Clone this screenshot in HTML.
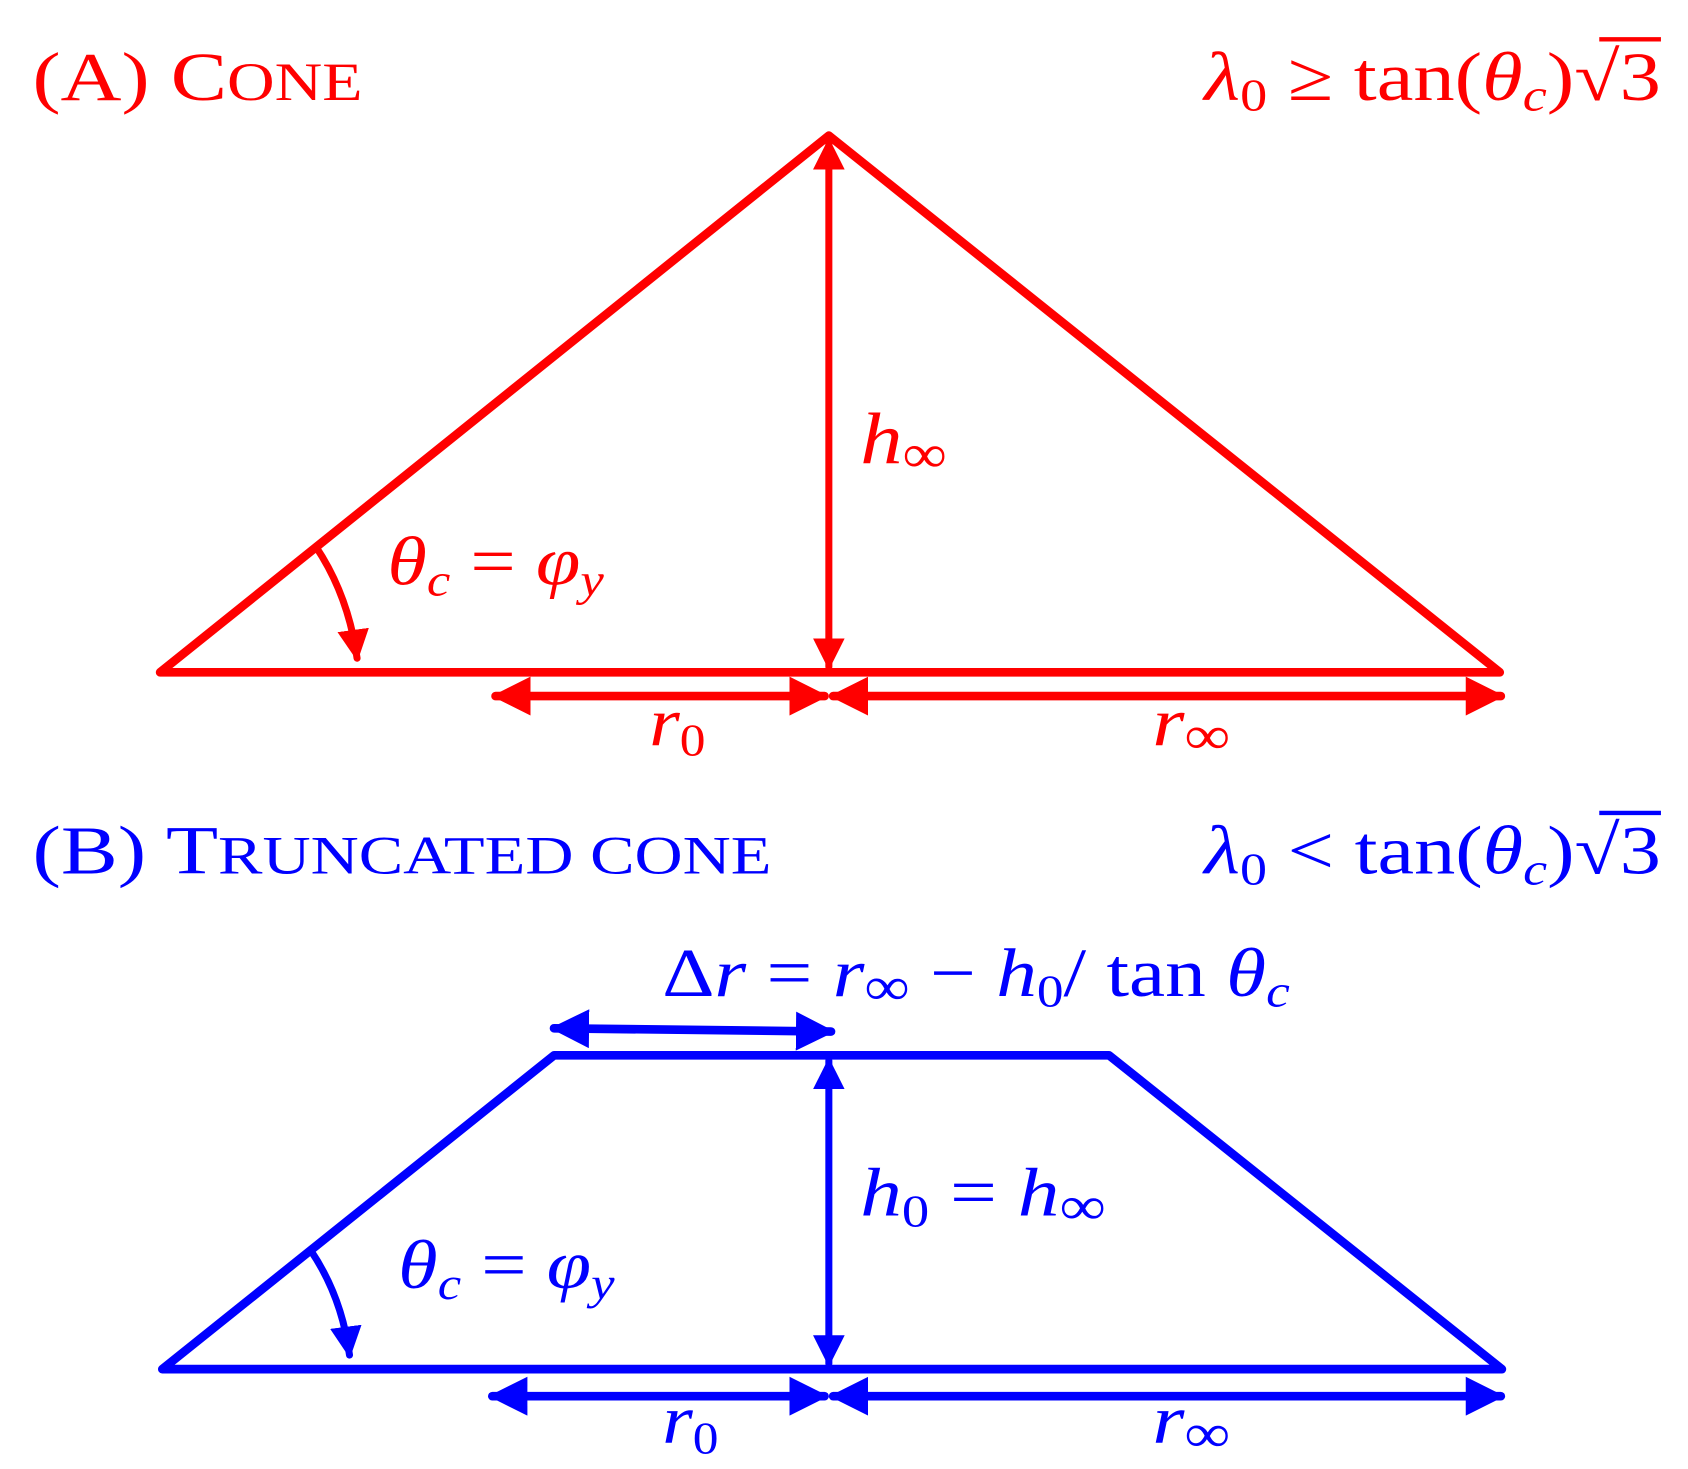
<!DOCTYPE html>
<html><head><meta charset="utf-8"><style>
html,body{margin:0;padding:0;background:#fff;}
svg{display:block;}
text{font-family:"Liberation Serif","DejaVu Serif",serif;}
.i{font-style:italic;}
</style></head><body>
<svg width="1688" height="1469" viewBox="0 0 1560 1357" xmlns="http://www.w3.org/2000/svg">
<defs>
<marker id="ar" viewBox="0 0 10 10" refX="9" refY="5" markerWidth="4.5" markerHeight="4.5" orient="auto-start-reverse" markerUnits="strokeWidth"><path d="M0,0 L10,5 L0,10 z" fill="#f00"/></marker>
<marker id="ab" viewBox="0 0 10 10" refX="9" refY="5" markerWidth="4.5" markerHeight="4.5" orient="auto-start-reverse" markerUnits="strokeWidth"><path d="M0,0 L10,5 L0,10 z" fill="#00f"/></marker>
</defs>
<!-- A -->
<g stroke="#f00" stroke-width="8" fill="none" stroke-linecap="round" stroke-linejoin="round">
<polyline points="148,621 766,125 1386,621 148,621"/>
<line x1="766" y1="130" x2="766" y2="616" marker-start="url(#ar)" marker-end="url(#ar)" stroke-width="6.5"/>
<path d="M292,505 Q322,550 330,608" marker-end="url(#ar)" stroke-width="6.5"/>
<line x1="458" y1="643" x2="762" y2="643" marker-start="url(#ar)" marker-end="url(#ar)"/>
<line x1="770" y1="643" x2="1387" y2="643" marker-start="url(#ar)" marker-end="url(#ar)"/>
<line x1="1478" y1="36" x2="1535" y2="36" stroke-width="4" stroke-linecap="butt"/>
</g>
<g fill="#f00" font-size="64">
<text x="30" y="92" textLength="305" lengthAdjust="spacingAndGlyphs">(A) C<tspan font-size="50">ONE</tspan></text>
<text x="1113" y="92" textLength="422" lengthAdjust="spacingAndGlyphs"><tspan class="i">λ</tspan><tspan font-size="42" dy="10">0</tspan><tspan dy="-10"> ≥ tan(</tspan><tspan class="i">θ</tspan><tspan class="i" font-size="42" dy="10">c</tspan><tspan dy="-10">)√3</tspan></text>
<text x="795" y="428" class="i" font-size="68" textLength="80" lengthAdjust="spacingAndGlyphs">h<tspan font-size="50" dy="8" font-style="normal">∞</tspan></text>
<text x="358" y="540" class="i" textLength="200" lengthAdjust="spacingAndGlyphs">θ<tspan font-size="42" dy="10">c</tspan><tspan dy="-10" font-style="normal"> = </tspan>φ<tspan font-size="42" dy="10">y</tspan></text>
<text x="600" y="688" class="i" textLength="52" lengthAdjust="spacingAndGlyphs">r<tspan font-size="42" dy="10" font-style="normal">0</tspan></text>
<text x="1065" y="688" class="i" textLength="72" lengthAdjust="spacingAndGlyphs">r<tspan font-size="50" dy="8" font-style="normal">∞</tspan></text>
</g>
<!-- B -->
<g stroke="#00f" stroke-width="8" fill="none" stroke-linecap="round" stroke-linejoin="round">
<polyline points="150,1265 512,975 1025,975 1388,1265 150,1265"/>
<line x1="766" y1="980" x2="766" y2="1260" marker-start="url(#ab)" marker-end="url(#ab)" stroke-width="6.5"/>
<path d="M287,1155 Q316,1198 323,1252" marker-end="url(#ab)" stroke-width="6.5"/>
<line x1="512" y1="950" x2="768" y2="953" marker-start="url(#ab)" marker-end="url(#ab)"/>
<line x1="455" y1="1290" x2="762" y2="1290" marker-start="url(#ab)" marker-end="url(#ab)"/>
<line x1="770" y1="1290" x2="1387" y2="1290" marker-start="url(#ab)" marker-end="url(#ab)"/>
<line x1="1478" y1="751" x2="1535" y2="751" stroke-width="4" stroke-linecap="butt"/>
</g>
<g fill="#00f" font-size="64">
<text x="30" y="807" textLength="683" lengthAdjust="spacingAndGlyphs">(B) T<tspan font-size="50">RUNCATED CONE</tspan></text>
<text x="1113" y="807" textLength="422" lengthAdjust="spacingAndGlyphs"><tspan class="i">λ</tspan><tspan font-size="42" dy="10">0</tspan><tspan dy="-10"> &lt; tan(</tspan><tspan class="i">θ</tspan><tspan class="i" font-size="42" dy="10">c</tspan><tspan dy="-10">)√3</tspan></text>
<text x="612" y="920" textLength="580" lengthAdjust="spacingAndGlyphs">Δ<tspan class="i">r</tspan> = <tspan class="i">r</tspan><tspan font-size="50" dy="8">∞</tspan><tspan dy="-8"> − </tspan><tspan class="i">h</tspan><tspan font-size="42" dy="10">0</tspan><tspan dy="-10">/ tan </tspan><tspan class="i">θ</tspan><tspan class="i" font-size="42" dy="10">c</tspan></text>
<text x="795" y="1123" textLength="227" lengthAdjust="spacingAndGlyphs"><tspan class="i">h</tspan><tspan font-size="42" dy="10">0</tspan><tspan dy="-10"> = </tspan><tspan class="i">h</tspan><tspan font-size="50" dy="8">∞</tspan></text>
<text x="368" y="1190" class="i" textLength="200" lengthAdjust="spacingAndGlyphs">θ<tspan font-size="42" dy="10">c</tspan><tspan dy="-10" font-style="normal"> = </tspan>φ<tspan font-size="42" dy="10">y</tspan></text>
<text x="612" y="1333" class="i" textLength="52" lengthAdjust="spacingAndGlyphs">r<tspan font-size="42" dy="10" font-style="normal">0</tspan></text>
<text x="1065" y="1333" class="i" textLength="72" lengthAdjust="spacingAndGlyphs">r<tspan font-size="50" dy="8" font-style="normal">∞</tspan></text>
</g>
</svg>
</body></html>
